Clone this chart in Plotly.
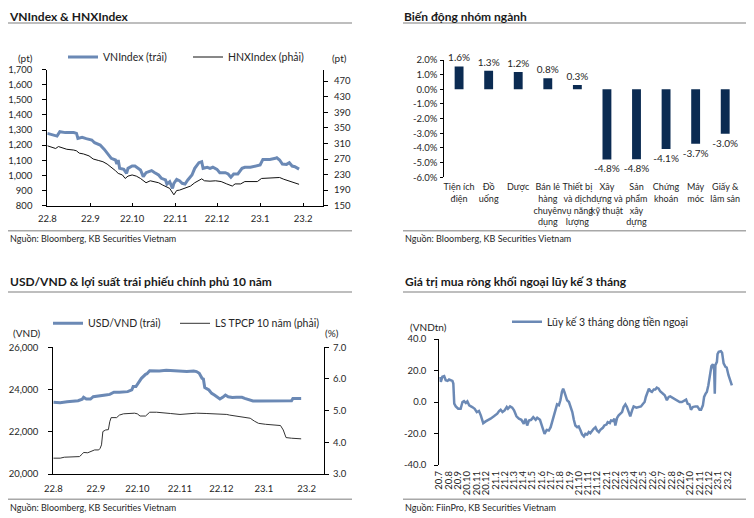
import plotly.graph_objects as go
import pandas as pd

# The page places the figure 8px in from the top-left corner (default body margin),
# so all layout positions below are given in window pixels and converted.
OX, OY = 8, 8
W, H = 754 - OX, 518 - OY
def px(x): return (x - OX) / W
def py(y): return 1 - (y - OY) / H

FONT = "Lato, 'Open Sans', sans-serif"
TXT = "#262626"
BLUE = "#6b89b5"
NAVY = "#0b2b52"
SEP = "#a8a8a8"

# ---------------- Chart 1: VNIndex & HNXIndex ----------------
idx_start = "2022-08-01"
vn_day = [0, 4, 7, 9, 13, 19, 21, 22, 25, 28, 32, 34, 38, 41, 44, 46, 49, 50, 51, 52, 55, 57, 58, 61, 63, 65, 67,
          69, 71, 73, 75, 77, 80, 82, 85, 86, 88, 90, 91, 93, 95, 97, 99, 101, 104, 106, 109, 111, 112, 115, 117,
          119, 122, 124, 128, 130, 132, 134, 137, 140, 142, 146, 149, 153, 155, 160, 164, 165, 167, 169, 172, 174,
          176, 178, 181]
vn_val = [1278, 1267, 1260, 1289, 1283, 1283, 1278, 1245, 1252, 1243, 1234, 1216, 1201, 1172, 1135, 1113, 1102,
          1075, 1102, 1047, 1040, 1014, 1047, 1062, 1062, 1047, 1036, 992, 1018, 1025, 1032, 1020, 1003, 981, 970,
          943, 959, 915, 948, 974, 965, 948, 943, 970, 1003, 1047, 1084, 1091, 1047, 1054, 1047, 1054, 1040, 1018,
          1018, 1010, 988, 1010, 1010, 1047, 1054, 1054, 1062, 1069, 1106, 1106, 1113, 1117, 1102, 1075, 1073,
          1084, 1062, 1058, 1042]
hnx_day = [0, 3, 6, 8, 10, 14, 19, 21, 23, 26, 30, 33, 37, 40, 43, 46, 49, 51, 54, 56, 58, 61, 64, 67, 70, 71,
           74, 77, 80, 83, 86, 88, 91, 93, 95, 99, 103, 106, 109, 111, 113, 117, 121, 125, 129, 133, 135, 139, 142,
           146, 151, 154, 160, 167, 170, 173, 177, 181]
hnx_val = [304, 300, 297, 302, 300, 295, 293, 291, 285, 283, 278, 270, 266, 263, 257, 249, 240, 233, 229, 220,
           226, 229, 226, 220, 212, 209, 214, 212, 209, 203, 197, 194.5, 178, 189, 190, 194.5, 200.5, 209, 216, 219,
           214, 213, 214, 212, 206, 200.5, 206, 206, 212, 212, 212, 220, 222, 222.5, 218, 214, 210, 205]
month_ticks = ["2022-08-01", "2022-09-01", "2022-10-01", "2022-11-01", "2022-12-01", "2023-01-01", "2023-02-01"]
month_labels = ["22.8", "22.9", "22.10", "22.11", "22.12", "23.1", "23.2"]
vn_ticks = list(range(800, 1701, 100))
hnx_ticks = list(range(150, 471, 40))

# ---------------- Chart 2: sectors ----------------
sectors = ["Tiện ích<br>điện", "Đồ<br>uống", "Dược", "Bán lẻ<br>hàng<br>chuyên<br>dụng",
           "Thiết bị<br>và dịch<br>vụ năng<br>lượng", "Xây<br>dựng và<br>kỹ thuật", "Sản<br>phẩm<br>xây<br>dựng",
           "Chứng<br>khoán", "Máy<br>móc", "Giấy &amp;<br>lâm sản"]
sector_chg = [1.56, 1.26, 1.18, 0.76, 0.29, -4.78, -4.77, -4.07, -3.72, -3.03]
sector_ticks = [-6, -5, -4, -3, -2, -1, 0, 1, 2]

# ---------------- Chart 3: USD/VND & 10Y yield ----------------
usd_day = [0, 5, 10, 15, 18, 21, 22, 24, 27, 29, 33, 38, 41, 44, 48, 54, 57, 58, 60, 62, 64, 67, 68, 70, 73, 77,
           82, 87, 92, 97, 102, 104, 106, 108, 109, 110, 113, 115, 117, 120, 121, 123, 125, 127, 130, 133, 137,
           139, 142, 145, 150, 160, 169, 173, 174, 177, 180]
usd_val = [23400, 23380, 23420, 23460, 23470, 23540, 23630, 23550, 23550, 23660, 23710, 23740, 23770, 23870,
           23870, 23900, 23980, 24140, 24140, 24340, 24530, 24720, 24750, 24890, 24880, 24880, 24910, 24880, 24850,
           24850, 24880, 24850, 24770, 24530, 24500, 24090, 23980, 23820, 23740, 23580, 23550, 23630, 23740, 23660,
           23620, 23630, 23630, 23580, 23510, 23460, 23460, 23460, 23460, 23470, 23580, 23580, 23580]
bond_day = [0, 5, 8, 15, 19, 21, 22, 25, 28, 30, 33, 34, 35, 36, 38, 40, 41, 42, 46, 48, 51, 56, 59, 61, 63, 67,
            69, 70, 75, 80, 85, 92, 97, 104, 111, 121, 126, 128, 133, 138, 143, 146, 149, 154, 160, 165, 167, 168,
            169, 173, 177, 180]
bond_val = [3.50, 3.50, 3.53, 3.54, 3.55, 3.63, 3.68, 3.67, 3.71, 3.76, 3.76, 3.81, 3.92, 4.34, 4.39, 4.40, 4.65,
            4.78, 4.78, 4.86, 4.90, 4.91, 4.92, 4.90, 4.83, 4.83, 4.92, 4.95, 4.95, 4.94, 4.91, 4.88, 4.89, 4.92,
            4.91, 4.90, 4.88, 4.86, 4.83, 4.81, 4.76, 4.67, 4.60, 4.57, 4.55, 4.53, 4.39, 4.28, 4.15, 4.13, 4.11,
            4.11]
usd_ticks = [20000, 22000, 24000, 26000]
bond_ticks = [3, 4, 5, 6, 7]

# ---------------- Chart 4: foreign net buying ----------------
flow_start = "2020-07-01"
flow_day = [3, 5, 10, 16, 21, 27, 32, 38, 43, 46, 49, 54, 62, 70, 76, 81, 87, 92, 98, 108, 116, 123, 130, 136,
            141, 144, 152, 160, 168, 179, 190, 196, 201, 207, 214, 221, 225, 232, 239, 245, 253, 261, 269, 277,
            283, 288, 294, 301, 308, 316, 321, 330, 334, 341, 345, 352, 359, 365, 370, 376, 381, 386, 392, 397,
            402, 406, 410, 414, 419, 425, 430, 436, 441, 446, 452, 457, 463, 468, 474, 479, 485, 490, 495, 501,
            506, 512, 517, 523, 528, 536, 541, 548, 552, 559, 563, 570, 574, 577, 583, 588, 594, 599, 604, 610,
            615, 621, 626, 632, 637, 646, 653, 661, 668, 673, 677, 683, 687, 692, 697, 703, 708, 713, 719, 724,
            732, 739, 746, 752, 757, 763, 768, 773, 779, 788, 795, 803, 809, 814, 820, 825, 831, 839, 846, 853,
            858, 864, 868, 873, 877, 882, 888, 892, 897, 901, 903, 905, 910, 912, 916, 923, 927, 932, 938, 942,
            948, 953, 959]
flow_val = [16, 12.8, 16, 16.4, 13.8, 13.4, 14.3, 13.8, 13.4, 11.7, -1.1, -2.8, -4.3, -4.3, 0, 0.6, -0.6, 0.4,
            -2.1, -3.2, -4.3, -6.4, -5.7, -8.5, -12.1, -13.4, -12.3, -11.7, -10.6, -9.1, -7.4, -5.7, -4.9, -6.4,
            -5.3, -3.2, -4.3, -2.8, -3.6, -5.3, -9.1, -10.6, -11.3, -13.8, -10.6, -14.9, -11.7, -11.3, -9.6,
            -11.3, -10, -11.3, -13.4, -17, -20.2, -17.7, -18.1, -16, -12.8, -9.1, -4.9, -1.5, -2.1, 1.1, 6.4, 8.5,
            6.4, 3.2, 1.1, 0, -2.8, -6.4, -11.3, -14.9, -16, -15.5, -18.1, -20.6, -21.9, -20.2, -20.6, -19.1,
            -19.8, -18.1, -17, -16, -18.1, -19.1, -17.7, -16.4, -14.9, -14.3, -12.8, -13.4, -11.7, -12.1, -10.6,
            -14.9, -10, -8.5, -7, -6.4, -3.2, -1.5, -3.2, -6.4, -9.1, -5.3, -2.8, -3.6, -3.2, -2.8, -1.1, 0, 3.2,
            7.4, 8.5, 7, 6.4, 7.9, 7.9, 9.1, 8.5, 6.8, 5.7, 4.3, 1.1, 3.2, 3.6, 2.8, 2.1, 1.5, 1.1, 0, 0, 0.6,
            1.5, -1.1, -1.5, -4.9, -3.2, -2.8, -2.8, -4.9, -4.9, -2.1, 3.2, 5.3, 6.4, 10.6, 18.1, 22.8, 24, 20.2,
            5.3, 23.4, 25.5, 30.4, 31.9, 32.3, 31.3, 24.5, 22.3, 21.9, 17, 13.4, 10.6]
flow_month_ticks = [f"{y}-{m:02d}-01" for y, m in
                    [(2020, m) for m in range(7, 13)] + [(2021, m) for m in range(1, 13)] +
                    [(2022, m) for m in range(1, 13)] + [(2023, 1), (2023, 2)]]
flow_month_labels = ["20.7", "20.8", "20.9", "20.10", "20.11", "20.12",
                     "21.1", "21.2", "21.3", "21.4", "21.5", "21.6", "21.7", "21.8", "21.9", "21.10", "21.11", "21.12",
                     "22.1", "22.2", "22.3", "22.4", "22.5", "22.6", "22.7", "22.8", "22.9", "22.10", "22.11", "22.12",
                     "23.1", "23.2"]
flow_ticks = [-40, -20, 0, 20, 40]


def to_dates(start, days):
    base = pd.Timestamp(start)
    return [(base + pd.Timedelta(days=d)).strftime("%Y-%m-%d") for d in days]


fig = go.Figure()

fig.add_trace(go.Scatter(x=to_dates(idx_start, vn_day), y=vn_val, name="VNIndex (trái)", mode="lines",
                         line=dict(color=BLUE, width=3), xaxis="x", yaxis="y", legend="legend"))
fig.add_trace(go.Scatter(x=to_dates(idx_start, hnx_day), y=hnx_val, name="HNXIndex (phải)", mode="lines",
                         line=dict(color="#111111", width=1), xaxis="x", yaxis="y2", legend="legend2"))
fig.add_trace(go.Bar(x=list(range(len(sectors))), y=sector_chg, width=0.3, marker=dict(color=NAVY, line=dict(width=0)),
                     texttemplate="%{y:.1f}%", textposition="outside", constraintext="none", cliponaxis=False,
                     textfont=dict(size=10, color=TXT), xaxis="x3", yaxis="y3", showlegend=False))
fig.add_trace(go.Scatter(x=to_dates(idx_start, usd_day), y=usd_val, name="USD/VND (trái)", mode="lines",
                         line=dict(color=BLUE, width=3), xaxis="x6", yaxis="y4", legend="legend3"))
fig.add_trace(go.Scatter(x=to_dates(idx_start, bond_day), y=bond_val, name="LS TPCP 10 năm (phải)", mode="lines",
                         line=dict(color="#333333", width=1), xaxis="x6", yaxis="y5", legend="legend4"))
fig.add_trace(go.Scatter(x=to_dates(flow_start, flow_day), y=flow_val, name="Lũy kế 3 tháng dòng tiền ngoại",
                         mode="lines", line=dict(color=BLUE, width=2.5), xaxis="x7", yaxis="y6", legend="legend5"))

AX = dict(showgrid=False, zeroline=False, linecolor="black", linewidth=1, tickcolor="black",
          tickfont=dict(size=9.5, color=TXT), fixedrange=True, automargin=False)
lay = {}

# Chart 1 axes
d1x = [px(47.3), px(323)]
d1y = [py(205.7), py(69.5)]
lay["xaxis"] = dict(AX, domain=d1x, anchor="y", type="date", range=[idx_start, "2023-02-15 05:00"],
                    tickvals=month_ticks, ticktext=month_labels, ticks="inside", ticklen=3, showline=True,
                    ticklabelstandoff=4)
lay["yaxis"] = dict(AX, domain=d1y, anchor="x", range=[800, 1700], tickvals=vn_ticks, tickformat=",",
                    ticks="outside", ticklen=4, showline=True, ticklabelstandoff=8)
lay["yaxis2"] = dict(AX, overlaying="y", side="right", anchor="x", range=[150, 500], tickvals=hnx_ticks,
                     ticks="outside", ticklen=4, showline=True, ticklabelstandoff=4)

# Chart 2 axes
d2x = [px(444.3), px(740)]
d2y = [py(177.3), py(60)]
srange = [-6, 2]
zero2 = d2y[0] + (0 - srange[0]) / (srange[1] - srange[0]) * (d2y[1] - d2y[0])
bounds = [i - 0.5 for i in range(len(sectors) + 1)]
lay["xaxis3"] = dict(AX, domain=d2x, anchor="y3", range=[-0.5, len(sectors) - 0.5],
                     tickvals=list(range(len(sectors))), ticktext=sectors, ticks="", showline=False, tickangle=0,
                     tickfont=dict(size=9, color=TXT), ticklabelstandoff=3)
lay["yaxis3"] = dict(AX, domain=d2y, anchor="x3", range=srange, tickvals=sector_ticks,
                     ticktext=[f"{v:.1f}%" for v in sector_ticks], ticks="outside", ticklen=3, showline=True,
                     ticklabelstandoff=1)
lay["xaxis4"] = dict(AX, overlaying="x3", anchor="free", position=zero2, range=[-0.5, len(sectors) - 0.5],
                     tickvals=bounds, ticks="outside", ticklen=3, showline=True, showticklabels=False)
lay["xaxis5"] = dict(AX, overlaying="x3", anchor="free", position=zero2, range=[-0.5, len(sectors) - 0.5],
                     tickvals=bounds, ticks="inside", ticklen=3, showline=False, showticklabels=False)

# Chart 3 axes
d3x = [px(53.3), px(324)]
d3y = [py(474), py(347.3)]
lay["xaxis6"] = dict(AX, domain=d3x, anchor="y4", type="date", range=[idx_start, "2023-02-13 14:00"],
                     tickvals=month_ticks, ticktext=month_labels, ticks="", showline=True, ticklabelstandoff=6)
lay["yaxis4"] = dict(AX, domain=d3y, anchor="x6", range=[20000, 26000], tickvals=usd_ticks, tickformat=",",
                     ticks="outside", ticklen=4, showline=True, ticklabelstandoff=8)
lay["yaxis5"] = dict(AX, overlaying="y4", side="right", anchor="x6", range=[3, 7], tickvals=bond_ticks,
                     tickformat=".1f", ticks="outside", ticklen=4, showline=True, ticklabelstandoff=2)

# Chart 4 axes
d4x = [px(439.3), px(734.3)]
d4y = [py(465), py(339)]
frange = [-40, 40]
zero4 = d4y[0] + (0 - frange[0]) / (frange[1] - frange[0]) * (d4y[1] - d4y[0])
lay["xaxis7"] = dict(AX, domain=d4x, anchor="y6", type="date", range=[flow_start, "2023-02-23"],
                     tickvals=flow_month_ticks, ticktext=flow_month_labels, tickangle=-90, ticks="",
                     showline=False, tickfont=dict(size=9.5, color=TXT), ticklabelstandoff=3)
lay["yaxis6"] = dict(AX, domain=d4y, anchor="x7", range=frange, tickvals=flow_ticks,
                     ticktext=[f"{v:.1f}" for v in flow_ticks], ticks="outside", ticklen=4, showline=True,
                     ticklabelstandoff=6)
lay["xaxis8"] = dict(AX, overlaying="x7", anchor="free", position=zero4, type="date",
                     range=[flow_start, "2023-02-23"], tickvals=flow_month_ticks[1:], ticks="inside", ticklen=3,
                     showline=True, showticklabels=False)

# inner halves of "cross" tick marks
def inner(key, base, anchor, side, rng, vals):
    lay[key] = dict(AX, overlaying=base, anchor=anchor, side=side, range=rng, tickvals=vals, ticks="inside",
                    ticklen=4, showline=False, showticklabels=False)

inner("yaxis9", "y", "x", "left", [800, 1700], vn_ticks)
inner("yaxis10", "y", "x", "right", [150, 500], hnx_ticks)
inner("yaxis11", "y3", "x3", "left", srange, sector_ticks)
inner("yaxis12", "y4", "x6", "left", [20000, 26000], usd_ticks)
inner("yaxis13", "y4", "x6", "right", [3, 7], bond_ticks)
inner("yaxis14", "y6", "x7", "left", frange, flow_ticks)

LEG = dict(orientation="h", xanchor="left", yanchor="middle", bgcolor="rgba(0,0,0,0)", borderwidth=0,
           font=dict(size=10.5, color=TXT, family=FONT))
lay["legend"] = dict(LEG, x=px(63), y=py(57))
lay["legend2"] = dict(LEG, x=px(188), y=py(57))
lay["legend3"] = dict(LEG, x=px(48), y=py(323.3))
lay["legend4"] = dict(LEG, x=px(175), y=py(323.3))
lay["legend5"] = dict(LEG, x=px(507), y=py(321.7))

fig.update_layout(**lay)

def note(text, x, y, size=10, bold=False, anchor="left", yanchor="middle", pad=1):
    fig.add_annotation(text=f"<b>{text}</b>" if bold else text, x=px(x), y=py(y), xref="paper", yref="paper",
                       xanchor=anchor, yanchor=yanchor, showarrow=False, borderpad=pad,
                       font=dict(size=size, color="#1a1a1a" if bold else TXT, family=FONT))

note("VNIndex &amp; HNXIndex", 8, OY, 12, True, yanchor="top", pad=0)
note("Biến động nhóm ngành", 403, OY, 12, True, yanchor="top", pad=0)
note("USD/VND &amp; lợi suất trái phiếu chính phủ 10 năm", 8, 281.7, 12, True)
note("Giá trị mua ròng khối ngoại lũy kế 3 tháng", 403, 281.7, 12, True)
note("Nguồn: Bloomberg, KB Securities Vietnam", 8, 238.5, 9)
note("Nguồn: Bloomberg, KB Securities Vietnam", 403, 238.5, 9)
note("Nguồn: Bloomberg, KB Securities Vietnam", 8, 507, 9)
note("Nguồn: FiinPro, KB Securities Vietnam", 403, 507, 9)
note("(pt)", 25, 58.5, 10, anchor="center")
note("(pt)", 339.5, 58.5, 10, anchor="center")
note("(VND)", 26.5, 333, 10, anchor="center")
note("(%)", 331.5, 333, 10, anchor="center")
note("(VNDtn)", 428.5, 326.7, 10, anchor="center")

for x0, x1, y in [(8, 352, 23), (8, 352, 230.7), (403, 746, 23), (403, 746, 230.7),
                  (8, 352, 292), (8, 352, 499.3), (403, 746, 292), (403, 746, 499.3)]:
    fig.add_shape(type="line", xref="paper", yref="paper", x0=px(x0), x1=px(x1), y0=py(y), y1=py(y),
                  line=dict(color=SEP, width=1.5))

fig.update_layout(width=W, height=H, margin=dict(l=0, r=0, t=0, b=0, pad=0, autoexpand=False),
                  paper_bgcolor="white", plot_bgcolor="rgba(0,0,0,0)",
                  font=dict(family=FONT, size=10, color=TXT), bargap=0.7)

fig.write_html("out.html", config={"displayModeBar": False})
